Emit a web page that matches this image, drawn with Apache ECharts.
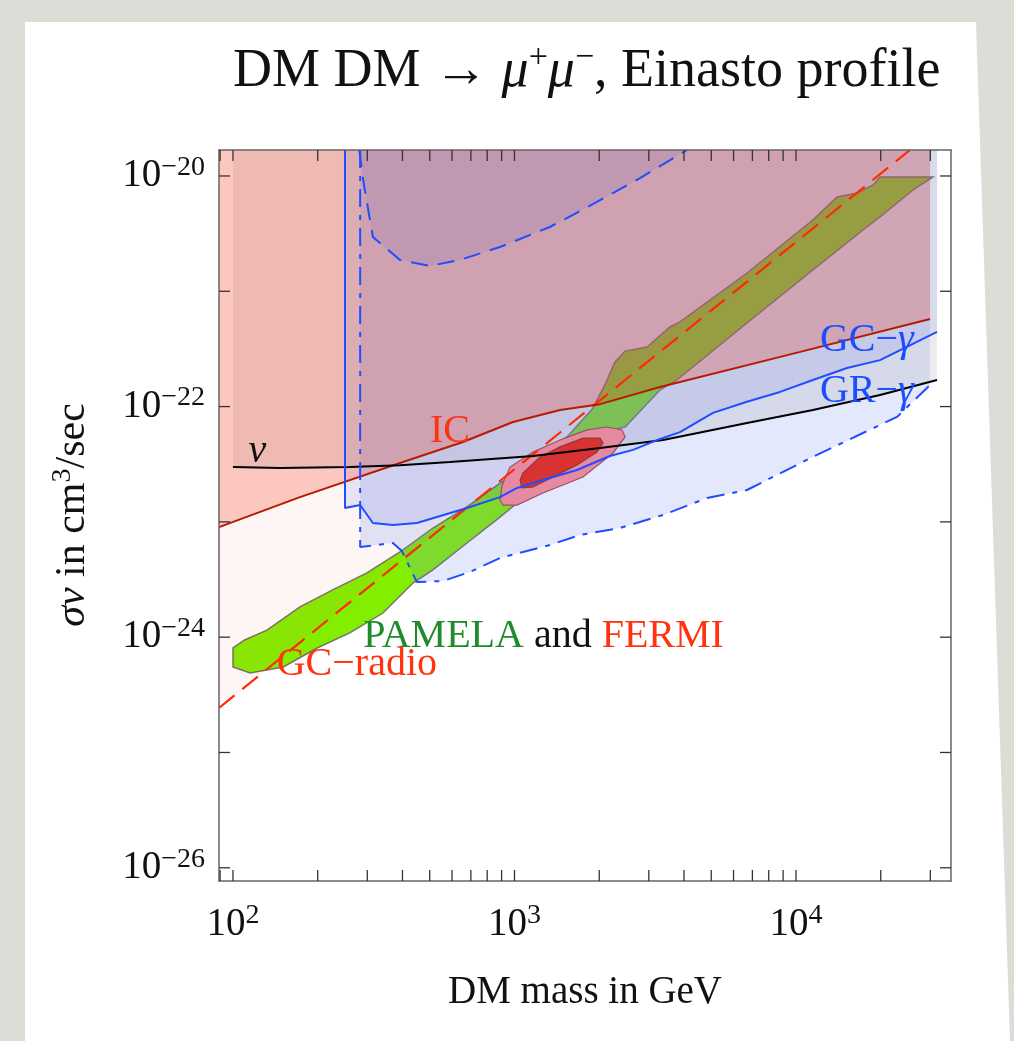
<!DOCTYPE html>
<html><head><meta charset="utf-8">
<script src="https://cdn.jsdelivr.net/npm/echarts@6/dist/echarts.min.js"></script>
<style>
html,body{margin:0;padding:0;width:1014px;height:1041px;overflow:hidden;background:#dedcd7;}
#panel{position:absolute;left:0;top:0;width:1014px;height:1041px;background:#fff;clip-path:polygon(25px 22px,976px 22px,1010px 1041px,25px 1041px);}
#chart{position:absolute;left:0;top:0;width:1014px;height:1041px;}
</style></head><body>
<div id="panel"></div><div id="chart"></div>
<script>
const SERIF = '"Liberation Serif","DejaVu Serif",serif';

// ---- axis ranges & ticks ----
const xRange = [89.2, 35530];
const yRange = [7.68e-27, 1.68e-20];
const xMajorTicks = [100, 1000, 10000];
const xMinorTicks = [90, 200, 300, 400, 500, 600, 700, 800, 900, 2000, 3000, 4000, 5000, 6000, 7000, 8000, 9000, 20000, 30000];
const yTicks = [1e-26, 1e-25, 1e-24, 1e-23, 1e-22, 1e-21, 1e-20];
const xLabelExponents = [2, 3, 4];
const yLabelExponents = [-26, -24, -22, -20];

// ---- data: [mass GeV, sigma v cm^3/s] ----
const gcRadio = [[89.2, 2.43e-25], [100, 3.05e-25], [1000, 2.86e-23], [10000, 2.67e-21], [25400, 1.68e-20]];
const icLimit = [[89.2, 9.0e-24], [173, 1.64e-23], [392, 3.24e-23], [656, 4.93e-23], [988, 7.35e-23], [1452, 9.35e-23], [2014, 1.05e-22], [3289, 1.48e-22], [10350, 2.98e-22], [29940, 5.75e-22]];
const nuLimit = [[100, 2.99e-23], [147, 2.94e-23], [260, 2.99e-23], [392, 3.1e-23], [590, 3.31e-23], [1164, 3.73e-23], [2014, 4.38e-23], [3373, 5.13e-23], [6698, 7.21e-23], [11480, 9.35e-23], [19880, 1.26e-22], [31690, 1.70e-22]];
const gcGamma = [[250, 1.68e-20], [250, 1.32e-23], [283, 1.40e-23], [314, 9.78e-24], [370, 9.40e-24], [450, 9.78e-24], [678, 1.32e-23], [888, 1.64e-23], [1021, 1.97e-23], [1262, 2.31e-23], [1667, 2.82e-23], [2183, 3.73e-23], [2636, 4.21e-23], [3289, 5.24e-23], [3873, 6.0e-23], [5070, 8.81e-23], [6698, 1.10e-22], [8770, 1.34e-22], [11480, 1.70e-22], [15180, 2.16e-22], [19880, 2.53e-22], [31690, 4.44e-22]];
const grGamma = [[283, 1.68e-20], [283, 6.05e-24], [370, 6.56e-24], [398, 5.60e-24], [432, 3.68e-24], [450, 3.01e-24], [557, 3.07e-24], [695, 3.68e-24], [888, 4.86e-24], [1336, 6.31e-24], [1709, 7.69e-24], [2371, 8.85e-24], [3373, 1.15e-23], [4831, 1.61e-23], [6698, 1.89e-23], [7888, 2.31e-23], [11480, 3.66e-23], [17300, 5.90e-23], [22850, 8.13e-23], [29940, 1.54e-22]];
const gcGammaAlt = [[281, 1.68e-20], [290, 9.23e-21], [314, 2.96e-21], [392, 1.87e-21], [501, 1.66e-21], [640, 1.87e-21], [888, 2.42e-21], [1336, 3.61e-21], [1963, 5.95e-21], [2793, 9.6e-21], [4100, 1.68e-20]];
const pamelaBand = [
  [100, 8.06e-25], [110, 9.46e-25], [132, 1.15e-24], [173, 1.83e-24], [226, 2.57e-24], [299, 3.61e-24], [392, 5.48e-24], [513, 8.85e-24], [678, 1.35e-23], [888, 2.17e-23], [1164, 3.31e-23], [1537, 5.45e-23], [1901, 9.73e-23], [2094, 1.54e-22], [2275, 2.44e-22], [2472, 3.03e-22], [2958, 3.29e-22], [3566, 4.90e-22], [3873, 5.42e-22], [6698, 1.44e-21], [11480, 4.15e-21], [13990, 6.58e-21], [16480, 7.13e-21], [18790, 8.35e-21], [19880, 9.8e-21], [30680, 9.8e-21],
  [26050, 7.56e-21], [19880, 4.41e-21], [17300, 3.40e-21], [11480, 1.53e-21], [6698, 5.31e-22], [3776, 1.70e-22], [3289, 1.39e-22], [2472, 6.65e-23], [2014, 5.90e-23], [1537, 3.24e-23], [1164, 1.89e-23], [888, 1.10e-23], [678, 6.56e-24], [513, 3.83e-24], [436, 2.95e-24], [341, 1.62e-24], [260, 1.09e-24], [199, 8.06e-25], [151, 5.52e-25], [115, 4.89e-25], [100, 5.52e-25]
];
const fermiOuter = [[888, 1.55e-23], [904, 2.09e-23], [964, 2.99e-23], [1164, 4.04e-23], [1452, 5.13e-23], [1810, 6.27e-23], [2133, 6.65e-23], [2410, 6.27e-23], [2472, 5.45e-23], [2239, 3.96e-23], [1751, 2.45e-23], [1262, 1.78e-23], [1021, 1.40e-23], [910, 1.40e-23]];
const fermiInner = [[1047, 2.31e-23], [1072, 2.65e-23], [1233, 3.66e-23], [1452, 4.47e-23], [1751, 5.34e-23], [2014, 5.34e-23], [2062, 4.83e-23], [1963, 4.04e-23], [1667, 3.12e-23], [1370, 2.45e-23], [1164, 2.01e-23], [1063, 1.97e-23]];

// ---- annotation anchors (data coords) ----
const annotations = [
  { at: [122, 4.04e-23], text: '{it|ν}', align: 'center' },
  { at: [590, 6.14e-23], text: '{r|IC}', align: 'center' },
  { at: [12160, 3.71e-22], text: '{b|GC−}{bi|γ}', align: 'left' },
  { at: [12160, 1.34e-22], text: '{b|GR−}{bi|γ}', align: 'left' },
  { at: [290, 1.02e-24], text: '{g|PAMELA}{k| and }{r|FERMI}', align: 'left' },
  { at: [143, 5.74e-25], text: '{r|GC−radio}', align: 'left' }
];

const FS = 40;
const annRich = {
  it: { fontSize: FS, fontFamily: SERIF, fontStyle: 'italic', fill: '#111' },
  r: { fontSize: FS, fontFamily: SERIF, fill: '#ff3311' },
  b: { fontSize: FS, fontFamily: SERIF, fill: '#1a4dff' },
  bi: { fontSize: FS, fontFamily: SERIF, fontStyle: 'italic', fill: '#1a4dff' },
  g: { fontSize: FS, fontFamily: SERIF, fill: '#1e8c2a' },
  k: { fontSize: FS, fontFamily: SERIF, fill: '#111' }
};

function polygonSeries(points, style, z) {
  return {
    type: 'custom', data: [points[0]], z: z, silent: true, clip: true, animation: false,
    renderItem: function (params, api) {
      return { type: 'polygon', shape: { points: points.map(function (p) { return api.coord(p); }) }, style: style };
    }
  };
}
function areaSeries(data, color, z) {
  return { type: 'line', data: data, symbol: 'none', silent: true, animation: false, z: z, clip: true,
    lineStyle: { width: 0, opacity: 0 }, areaStyle: { color: color, origin: 'end', opacity: 1 } };
}
function lineSeries(data, color, width, dash, z) {
  return { type: 'line', data: data, symbol: 'none', silent: true, animation: false, z: z, clip: true,
    lineStyle: { color: color, width: width, type: dash || 'solid' } };
}

const tickSeries = {
  type: 'custom', data: [[100, 1e-22]], z: 20, silent: true, animation: false,
  renderItem: function (params, api) {
    const L = 11, st = { stroke: '#333', lineWidth: 1.3 };
    const ch = [];
    xMajorTicks.concat(xMinorTicks).forEach(function (v) {
      const b = api.coord([v, yRange[0]]), t = api.coord([v, yRange[1]]);
      ch.push({ type: 'line', shape: { x1: b[0], y1: b[1], x2: b[0], y2: b[1] - L }, style: st });
      ch.push({ type: 'line', shape: { x1: t[0], y1: t[1], x2: t[0], y2: t[1] + L }, style: st });
    });
    yTicks.forEach(function (v) {
      const l = api.coord([xRange[0], v]), r = api.coord([xRange[1], v]);
      ch.push({ type: 'line', shape: { x1: l[0], y1: l[1], x2: l[0] + L, y2: l[1] }, style: st });
      ch.push({ type: 'line', shape: { x1: r[0], y1: r[1], x2: r[0] - L, y2: r[1] }, style: st });
    });
    return { type: 'group', children: ch };
  }
};

const textSeries = {
  type: 'custom', data: [[100, 1e-22]], z: 30, silent: true, animation: false, clip: false,
  renderItem: function (params, api) {
    return { type: 'group', children: annotations.map(function (a) {
      const c = api.coord(a.at);
      return { type: 'text', x: c[0], y: c[1], style: { text: a.text, rich: annRich, align: a.align, verticalAlign: 'middle' } };
    }) };
  }
};

function supFmt(exps) {
  return function (v) {
    const lg = Math.log10(v), e = Math.round(lg);
    if (Math.abs(lg - e) > 1e-3 || exps.indexOf(e) < 0) return '';
    return '{b|10}{s|' + (e < 0 ? '\u2212' + (-e) : e) + '}';
  };
}
const labelRich = {
  b: { fontSize: 39, fontFamily: SERIF, color: '#111', lineHeight: 45 },
  s: { fontSize: 28, fontFamily: SERIF, color: '#111', verticalAlign: 'top', lineHeight: 28 }
};
const axisLineStyle = { color: '#666666', width: 1.5 };

const option = {
  animation: false,
  textStyle: { fontFamily: SERIF },
  title: {
    text: '{n|DM DM → }{i|μ}{s|+}{i|μ}{s|−}{n|, Einasto profile}',
    left: 228, top: 36,
    textStyle: { fontWeight: 'normal', rich: {
      n: { fontSize: 54, fontFamily: SERIF, fontWeight: 'normal', color: '#111', lineHeight: 62 },
      i: { fontSize: 54, fontFamily: SERIF, fontWeight: 'normal', fontStyle: 'italic', color: '#111', lineHeight: 62 },
      s: { fontSize: 34, fontFamily: SERIF, fontWeight: 'normal', color: '#111', verticalAlign: 'top', lineHeight: 36 }
    } }
  },
  graphic: [{
    type: 'text', x: 73, y: 515, rotation: Math.PI / 2, z: 50,
    style: { text: '{i|σv}{n| in cm}{s|3}{n|/sec}', align: 'center', verticalAlign: 'middle',
      rich: {
        i: { fontSize: 42, fontFamily: SERIF, fontStyle: 'italic', fill: '#111', lineHeight: 48 },
        n: { fontSize: 42, fontFamily: SERIF, fill: '#111', lineHeight: 48 },
        s: { fontSize: 28, fontFamily: SERIF, fill: '#111', verticalAlign: 'top', lineHeight: 30 }
      } }
  }],
  grid: { left: 219, top: 150, width: 732, height: 731, show: false, containLabel: false, outerBoundsMode: 'none' },
  xAxis: [
    { type: 'log', logBase: 10, min: xRange[0], max: xRange[1], position: 'bottom', z: 15,
      axisLine: { show: true, onZero: false, lineStyle: axisLineStyle },
      axisTick: { show: false }, minorTick: { show: false }, splitLine: { show: false },
      axisLabel: { margin: 21, interval: 0, hideOverlap: false, formatter: supFmt(xLabelExponents), rich: labelRich },
      name: 'DM mass in GeV', nameLocation: 'middle', nameGap: 92,
      nameTextStyle: { fontSize: 39, fontFamily: SERIF, color: '#111' } },
    { type: 'log', logBase: 10, min: xRange[0], max: xRange[1], position: 'top', z: 15,
      axisLine: { show: true, onZero: false, lineStyle: axisLineStyle },
      axisTick: { show: false }, splitLine: { show: false }, axisLabel: { show: false } }
  ],
  yAxis: [
    { type: 'log', logBase: 10, min: yRange[0], max: yRange[1], position: 'left', z: 15,
      axisLine: { show: true, onZero: false, lineStyle: axisLineStyle },
      axisTick: { show: false }, minorTick: { show: false }, splitLine: { show: false },
      axisLabel: { margin: 14, interval: 0, hideOverlap: false, formatter: supFmt(yLabelExponents), rich: labelRich } },
    { type: 'log', logBase: 10, min: yRange[0], max: yRange[1], position: 'right', z: 15,
      axisLine: { show: true, onZero: false, lineStyle: axisLineStyle },
      axisTick: { show: false }, splitLine: { show: false }, axisLabel: { show: false } }
  ],
  series: [
    polygonSeries(pamelaBand, { fill: 'rgb(132,238,0)', stroke: 'rgba(110,100,95,0.9)', lineWidth: 1.5 }, 1),
    areaSeries(gcRadio, 'rgba(230,80,60,0.05)', 3),
    areaSeries(grGamma, 'rgba(100,128,240,0.18)', 4),
    areaSeries(nuLimit, 'rgba(150,150,150,0.18)', 5),
    areaSeries(gcGamma, 'rgba(100,110,230,0.14)', 6),
    areaSeries(icLimit, 'rgba(245,30,0,0.22)', 7),
    areaSeries(gcGammaAlt, 'rgba(100,100,180,0.14)', 8),
    polygonSeries(fermiOuter, { fill: 'rgb(230,138,162)', stroke: '#9a5060', lineWidth: 1.2 }, 9),
    polygonSeries(fermiInner, { fill: 'rgb(216,50,50)', stroke: '#8a3a3a', lineWidth: 1.2 }, 9),
    lineSeries(gcRadio, '#ff2a00', 2.2, [20, 10], 10),
    lineSeries(icLimit, '#b81a00', 2, 'solid', 10),
    lineSeries(nuLimit, '#000000', 2, 'solid', 10),
    lineSeries(gcGamma, '#1f4dff', 2, 'solid', 10),
    lineSeries(grGamma, '#1f4dff', 2, [18, 8, 5, 8], 10),
    lineSeries(gcGammaAlt, '#1f4dff', 2, [17, 10], 10),
    tickSeries,
    textSeries
  ]
};

const chart = echarts.init(document.getElementById('chart'), null, { renderer: 'canvas' });
chart.setOption(option);
</script>
</body></html>
